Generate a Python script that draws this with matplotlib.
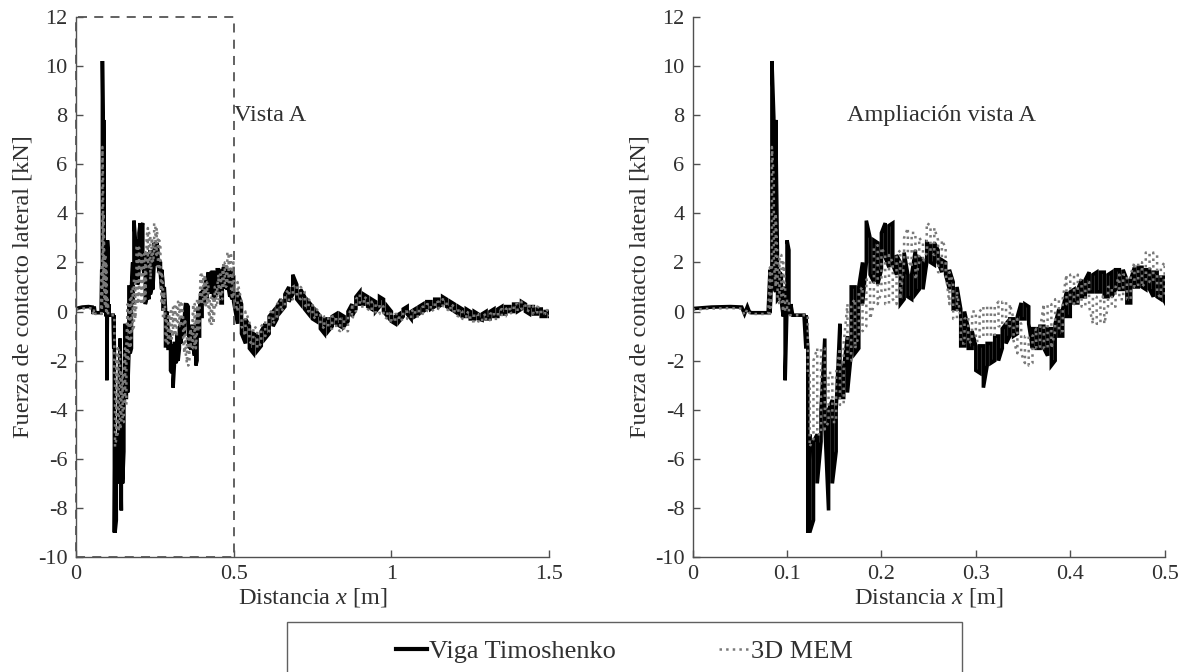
import numpy as np
import matplotlib
matplotlib.use("Agg")
import matplotlib.pyplot as plt
from matplotlib.lines import Line2D
from matplotlib.patches import Rectangle

plt.rcParams['font.family'] = ['Liberation Serif', 'DejaVu Serif']
plt.rcParams['mathtext.fontset'] = 'custom'
plt.rcParams['mathtext.it'] = 'Liberation Serif:italic'
plt.rcParams['mathtext.rm'] = 'Liberation Serif'
plt.rcParams['axes.unicode_minus'] = False

# ---- lateral contact force [kN] vs distance [m] ----
# before first impact: smooth signal
x_pre = [0.0, 0.02, 0.04, 0.052, 0.055, 0.058, 0.06, 0.062, 0.07, 0.08]
tim_pre = [0.12, 0.18, 0.2, 0.18, -0.1, 0.2, 0.0, -0.05, -0.05, -0.05]
mem_pre = [0.08, 0.12, 0.14, 0.12, -0.15, 0.1, -0.05, -0.1, -0.1, -0.1]

# impact zone, fine sampling (upper / lower value of the oscillation band)
x_imp = np.linspace(0.082, 0.122, 21)
tim_imp_hi = [1.7, 10.2, 7.9, 7.8, 1.7, 1.6, 1.5, 1.0, 0.8, 2.9, 2.5, 0.3,
              -0.15, -0.15, -0.15, -0.15, -0.15, -0.15, -0.15, -0.15, -1.5]
tim_imp_lo = [-0.05, 1.5, 1.0, 0.8, 0.5, 0.6, 0.4, -0.2, -2.8, 0.3, 0.2,
              -0.15, -0.15, -0.15, -0.15, -0.15, -0.15, -0.15, -0.15, -1.5, -9.0]
mem_imp_hi = [1.8, 6.7, 5.3, 4.0, 2.0, 2.3, 2.3, 2.0, 1.0, 0.5, 0.4,
              -0.15, -0.15, -0.15, -0.15, -0.15, -0.15, -0.15, -0.15, -0.15, -0.15]
mem_imp_lo = [-0.1, 1.0, 2.0, 1.0, 0.5, 0.3, 0.5, 0.0, 0.0, 0.1, -0.15,
              -0.15, -0.15, -0.15, -0.15, -0.15, -0.15, -0.15, -0.15, -0.15, -2.5]

# transient up to 0.5 m
x_tr = np.linspace(0.124, 0.496, 94)
tim_tr_hi = [-5.0, -5.3, -5.0, -4.0, -1.1, -4.0, -3.6, -4.0, -0.5, -2.3,
             -1.0, 1.0, 1.0, 1.0, 2.0, 3.7, 3.0, 2.9, 2.8, 3.2,
             3.6, 3.5, 3.6, 2.3, 2.0, 2.4, 1.5, 1.5, 2.5, 2.2,
             2.1, 2.8, 2.7, 2.8, 2.5, 2.1, 2.0, 1.7, 1.2, 1.0,
             0.1, 0.0, -0.7, -0.8, -1.4, -1.4, -1.4, -1.3, -1.3, -1.0,
             -1.0, -0.7, -0.5, -0.3, -0.3, -0.2, 0.35, 0.3, 0.2, -0.7,
             -0.7, -0.6, -0.6, -0.7, -0.7, -0.5, 0.1, 0.1, 0.8, 0.8,
             0.9, 0.9, 1.3, 1.3, 1.6, 1.5, 1.6, 1.6, 1.6, 1.5,
             1.6, 1.7, 1.7, 1.7, 1.3, 1.3, 1.8, 1.8, 1.8, 1.7,
             1.7, 1.6, 1.6, 1.4]
tim_tr_lo = [-9.0, -8.5, -7.0, -5.3, -4.5, -8.1, -7.0, -5.7, -3.5, -3.5,
             -3.3, -1.7, -1.7, -1.5, 0.3, 2.0, 1.5, 1.2, 1.1, 1.7,
             2.2, 1.8, 1.9, 1.5, 0.3, 0.5, 0.6, 0.5, 0.7, 0.9,
             0.9, 2.0, 2.0, 1.9, 2.0, 1.6, 1.5, 0.9, 0.1, 0.1,
             -1.4, -1.4, -1.5, -1.5, -2.4, -2.5, -3.1, -2.2, -2.1, -2.0,
             -2.0, -1.5, -1.3, -1.0, -1.0, -0.9, -0.3, -0.3, -0.5, -1.5,
             -1.5, -1.5, -1.5, -1.8, -2.2, -2.0, -1.0, -1.0, -0.2, -0.2,
             0.35, 0.35, 0.6, 0.6, 0.8, 0.8, 0.8, 0.8, 0.6, 0.6,
             0.6, 0.9, 0.9, 0.9, 0.35, 0.35, 1.0, 1.0, 1.0, 0.9,
             0.9, 0.6, 0.6, 0.5]
mem_tr_hi = [-2.5, -2.0, -1.5, -1.5, -1.5, -2.5, -2.5, -2.5, -1.5, -1.3,
             0.3, 0.3, 0.5, 0.8, 1.0, 1.3, 1.3, 2.6, 2.7, 2.6,
             2.3, 2.3, 2.0, 2.3, 2.5, 3.0, 3.4, 3.2, 3.2, 3.0,
             2.8, 3.6, 3.5, 3.4, 2.9, 2.9, 2.6, 1.6, 1.2, 0.8,
             -0.3, -0.3, -0.2, 0.0, 0.0, 0.0, 0.2, 0.2, 0.2, 0.2,
             0.4, 0.4, 0.4, 0.3, -0.3, -0.3, -0.5, -1.0, -1.0, -1.0,
             -0.7, -0.7, 0.3, 0.3, 0.3, 0.5, 0.5, 0.5, 1.5, 1.5,
             1.5, 1.5, 1.2, 1.2, 1.2, 0.6, 0.6, 0.6, 0.6, 1.0,
             1.0, 1.0, 1.5, 1.5, 1.5, 1.5, 2.0, 2.0, 2.0, 2.4,
             2.4, 2.4, 2.3, 1.8]
mem_tr_lo = [-5.5, -5.2, -5.0, -5.0, -4.8, -4.5, -4.5, -4.5, -3.8, -3.8,
             -2.0, -2.0, -1.5, -1.0, -0.8, -0.6, -0.3, 0.3, 0.3, 0.8,
             0.3, 0.3, 0.5, 0.3, 0.5, 2.0, 2.1, 1.8, 1.3, 2.0,
             2.0, 2.4, 2.4, 2.3, 1.6, 1.6, 1.6, 0.3, -0.3, -0.3,
             -1.3, -1.3, -1.3, -1.2, -1.2, -1.2, -1.0, -1.0, -1.0, -1.0,
             -0.6, -0.6, -0.6, -0.6, -1.2, -1.7, -1.7, -2.1, -2.2, -2.1,
             -1.5, -1.5, -1.5, -1.5, -1.5, -0.8, -0.8, -0.8, 0.3, 0.3,
             0.3, 0.3, 0.2, 0.2, 0.2, -0.5, -0.5, -0.5, -0.5, 0.2,
             0.2, 0.2, 0.5, 0.5, 0.5, 0.5, 1.0, 1.0, 1.0, 1.2,
             1.2, 1.2, 0.8, 0.5]

# decay 0.5 - 1.5 m
x_dec = np.linspace(0.5, 1.5, 81)
tim_dec_hi = [1.4, 0.8, 0.3, -0.3, -0.6, -0.9, -1.0, -0.8, -0.5, -0.2,
              0.0, 0.2, 0.5, 0.7, 1.0, 1.5, 1.1, 0.9, 0.6, 0.4,
              0.2, 0.0, -0.2, -0.3, -0.3, -0.2, -0.1, -0.1, -0.2, 0.0,
              0.3, 0.6, 0.8, 0.7, 0.6, 0.5, 0.4, 0.6, 0.5, 0.2,
              0.0, -0.2, -0.1, 0.1, 0.2, 0.0, 0.1, 0.2, 0.3, 0.4,
              0.4, 0.5, 0.5, 0.6, 0.5, 0.4, 0.3, 0.2, 0.1, 0.1,
              0.0, 0.0, -0.1, -0.1, 0.0, 0.0, 0.1, 0.1, 0.2, 0.2,
              0.2, 0.3, 0.3, 0.4, 0.3, 0.2, 0.2, 0.1, 0.1, 0.0,
              0.0]
tim_dec_lo = [0.4, -0.5, -0.9, -1.3, -1.5, -1.7, -1.6, -1.4, -1.1, -0.9,
              -0.6, -0.3, 0.0, 0.2, 0.4, 0.7, 0.5, 0.3, 0.1, -0.1,
              -0.3, -0.4, -0.7, -0.9, -0.8, -0.6, -0.5, -0.6, -0.6, -0.4,
              -0.2, 0.1, 0.3, 0.3, 0.2, 0.1, 0.0, 0.2, 0.0, -0.2,
              -0.4, -0.5, -0.4, -0.2, -0.1, -0.3, -0.2, -0.1, 0.0, 0.1,
              0.1, 0.2, 0.2, 0.3, 0.2, 0.1, 0.0, -0.1, -0.2, -0.2,
              -0.3, -0.3, -0.3, -0.35, -0.3, -0.3, -0.2, -0.2, -0.1, -0.1,
              0.0, 0.0, 0.0, 0.1, 0.0, -0.1, -0.1, -0.1, -0.2, -0.2,
              -0.2]
mem_dec_hi = [2.0, 1.2, 0.4, 0.0, -0.4, -0.6, -0.7, -0.6, -0.4, -0.1,
              0.1, 0.3, 0.5, 0.7, 0.9, 1.0, 1.1, 1.0, 0.8, 0.5,
              0.3, 0.1, -0.1, -0.2, -0.2, -0.2, -0.2, -0.3, -0.3, -0.2,
              0.2, 0.5, 0.7, 0.6, 0.5, 0.4, 0.3, 0.3, 0.2, 0.0,
              -0.1, -0.1, -0.1, 0.0, 0.0, 0.0, 0.1, 0.1, 0.2, 0.3,
              0.3, 0.4, 0.4, 0.5, 0.4, 0.3, 0.2, 0.1, 0.0, 0.0,
              -0.1, -0.1, -0.1, -0.2, -0.1, -0.1, 0.0, 0.0, 0.1, 0.1,
              0.2, 0.3, 0.3, 0.4, 0.3, 0.3, 0.2, 0.2, 0.1, 0.1,
              0.0]
mem_dec_lo = [0.6, 0.0, -0.6, -1.0, -1.2, -1.4, -1.5, -1.3, -1.0, -0.8,
              -0.5, -0.2, 0.0, 0.2, 0.4, 0.5, 0.6, 0.5, 0.3, 0.0,
              -0.2, -0.3, -0.5, -0.7, -0.7, -0.7, -0.7, -0.8, -0.8, -0.8,
              -0.3, 0.0, 0.2, 0.2, 0.1, 0.0, -0.1, -0.1, -0.2, -0.3,
              -0.4, -0.4, -0.4, -0.3, -0.3, -0.3, -0.2, -0.2, -0.1, 0.0,
              0.0, 0.1, 0.1, 0.2, 0.1, 0.0, -0.1, -0.2, -0.3, -0.3,
              -0.4, -0.4, -0.4, -0.45, -0.4, -0.35, -0.3, -0.3, -0.2, -0.2,
              -0.1, 0.0, 0.0, 0.1, 0.1, 0.0, -0.1, -0.1, -0.1, -0.1,
              -0.2]


def band_path(x, hi, lo):
    """zig-zag between upper and lower value at every sample"""
    xs = np.repeat(np.asarray(x, float), 2)
    ys = np.column_stack([hi, lo]).astype(float)
    ys[1::2] = ys[1::2, ::-1]
    return xs, ys.ravel()


def series(pre, parts):
    xs, ys = [np.asarray(x_pre, float)], [np.asarray(pre, float)]
    for x, hi, lo in parts:
        a, b = band_path(x, hi, lo)
        xs.append(a)
        ys.append(b)
    return np.concatenate(xs), np.concatenate(ys)


tim_x, tim_y = series(tim_pre, [(x_imp, tim_imp_hi, tim_imp_lo),
                                (x_tr, tim_tr_hi, tim_tr_lo),
                                (x_dec, tim_dec_hi, tim_dec_lo)])
mem_x, mem_y = series(mem_pre, [(x_imp, mem_imp_hi, mem_imp_lo),
                                (x_tr, mem_tr_hi, mem_tr_lo),
                                (x_dec, mem_dec_hi, mem_dec_lo)])

axis_col = '#505050'
text_col = '#303030'
fs = 16
fs_lab = 17.5

fig = plt.figure(figsize=(11.86, 6.72), dpi=100)
ax1 = fig.add_axes([0.064, 0.171, 0.399, 0.804])
ax2 = fig.add_axes([0.584, 0.171, 0.398, 0.804])

for ax, xmax, ticks in [(ax1, 1.5, [0, 0.5, 1, 1.5]),
                        (ax2, 0.5, [0, 0.1, 0.2, 0.3, 0.4, 0.5])]:
    ax.plot(tim_x, tim_y, color='black', lw=2.6, solid_joinstyle='miter')
    ax.plot(mem_x, mem_y, color='#7a7a7a', lw=1.8, ls=':')
    ax.set_xlim(0, xmax)
    ax.set_ylim(-10, 12)
    ax.set_xticks(ticks)
    ax.set_xticklabels(['0' if t == 0 else f'{t:g}' for t in ticks])
    ax.set_yticks(range(-10, 13, 2))
    for s in ['top', 'right']:
        ax.spines[s].set_visible(False)
    for s in ['left', 'bottom']:
        ax.spines[s].set_color(axis_col)
        ax.spines[s].set_linewidth(1.0)
    ax.tick_params(direction='in', length=5, width=1.0, color=axis_col,
                   labelcolor=text_col, labelsize=fs, pad=6)
    ax.set_xlabel(r'Distancia $x$ [m]', fontsize=fs_lab, color=text_col,
                  labelpad=1)
    ax.set_ylabel('Fuerza de contacto lateral [kN]', fontsize=fs_lab,
                  color=text_col, labelpad=3)

# zoom window marked on the full record
ax1.add_patch(Rectangle((0, -10), 0.5, 22, fill=False, ec='#555555', lw=1.3,
                        ls=(0, (5, 4)), clip_on=False, zorder=5))
ax1.text(0.5, 8, 'Vista A', fontsize=fs_lab, color=text_col, ha='left',
         va='center')
ax2.text(0.163, 8, 'Ampliación vista A', fontsize=fs_lab, color=text_col,
         ha='left', va='center')

# legend box runs off the bottom edge of the figure
fig.patches.append(Rectangle((287 / 1186, -0.05), 675 / 1186, 0.05 + 50 / 672,
                             transform=fig.transFigure, fill=False,
                             ec='#606060', lw=1.0))
handles = [Line2D([], [], color='black', lw=3),
           Line2D([], [], color='#7a7a7a', lw=1.8, ls=':')]
fig.legend(handles, ['Viga Timoshenko', '3D MEM'], ncol=2,
           loc='center', bbox_to_anchor=(0.5266, 0.031),
           fontsize=19, frameon=False,
           handlelength=1.2, handletextpad=0.05, columnspacing=3.9,
           labelcolor=text_col)

fig.savefig('out.png', dpi=100)
